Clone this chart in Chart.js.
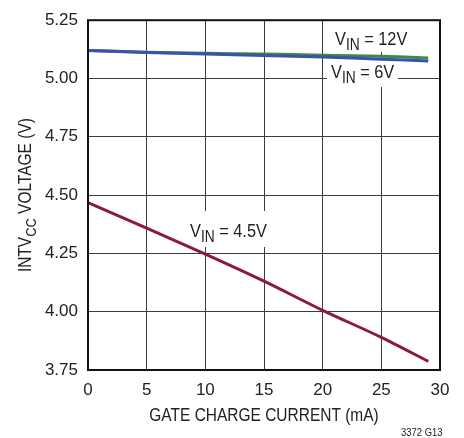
<!DOCTYPE html>
<html>
<head>
<meta charset="UTF-8">
<title>INTVCC Voltage vs Gate Charge Current</title>
<script src="https://cdn.jsdelivr.net/npm/chart.js"></script>
<style>
  html, body { margin: 0; padding: 0; background: #fff; }
  canvas { display: block; }
</style>
</head>
<body>
<canvas id="chart" width="464" height="438"></canvas>
<script>
// gate charge current (mA)
const currents = [0, 5, 10, 15, 20, 25, 29];
// INTVcc voltage (V) per input voltage
const vin12 = [5.120, 5.113, 5.108, 5.105, 5.100, 5.095, 5.088];
const vin6 = [5.120, 5.112, 5.105, 5.099, 5.092, 5.083, 5.075];
const vin45 = [4.468, 4.358, 4.247, 4.131, 4.006, 3.890, 3.787];

const xTicks = [0, 5, 10, 15, 20, 25, 30];
const yTicks = [3.75, 4.00, 4.25, 4.50, 4.75, 5.00, 5.25];

const FONT = "'Liberation Sans', Arial, sans-serif";
const INK = '#222';
const NARROW = 0.86; // the original type is a condensed face

function pts(ys) {
    return currents.map((x, i) => ({ x: x, y: ys[i] }));
}

// text pieces, some of them subscript, squeezed horizontally
function subText(ctx, x, y, parts, size, align) {
    const subSize = Math.round(size * 0.85);
    let w = 0;
    parts.forEach(p => {
        ctx.font = (p.sub ? subSize : size) + 'px ' + FONT;
        p.w = ctx.measureText(p.t).width;
        w += p.w;
    });
    ctx.save();
    ctx.translate(x, y);
    ctx.scale(NARROW, 1);
    let cx = align === 'center' ? -w / 2 : 0;
    ctx.textAlign = 'left';
    ctx.textBaseline = 'alphabetic';
    parts.forEach(p => {
        ctx.font = (p.sub ? subSize : size) + 'px ' + FONT;
        ctx.fillText(p.t, cx, p.sub ? 5 : 0);
        cx += p.w;
    });
    ctx.restore();
}

function vinLabel(val) {
    return [{ t: 'V' }, { t: 'IN', sub: true }, { t: ' = ' + val }];
}

const labelPlugin = {
    id: 'labels',
    beforeDatasetsDraw(chart) {
        const ctx = chart.ctx;
        ctx.save();
        // white boxes behind the curve labels
        ctx.fillStyle = '#fff';
        ctx.fillRect(330, 18, 82, 34);
        ctx.fillRect(327, 58, 71, 29);
        ctx.fillRect(188, 211, 80, 36);
        ctx.fillStyle = INK;
        subText(ctx, 335, 45, vinLabel('12V'), 19);
        subText(ctx, 331, 78, vinLabel('6V'), 19);
        subText(ctx, 190, 237, vinLabel('4.5V'), 19);
        ctx.restore();
    },
    afterDraw(chart) {
        const ctx = chart.ctx;
        const a = chart.chartArea;
        ctx.save();
        // plot frame
        ctx.strokeStyle = '#111';
        ctx.lineWidth = 2;
        ctx.strokeRect(a.left, a.top, a.right - a.left, a.bottom - a.top);

        ctx.fillStyle = INK;
        // x axis title
        subText(ctx, 264, 421, [{ t: 'GATE CHARGE CURRENT (mA)' }], 18, 'center');

        // y axis title
        ctx.save();
        ctx.translate(31, (a.top + a.bottom) / 2);
        ctx.rotate(-Math.PI / 2);
        subText(ctx, 0, 0, [{ t: 'INTV' }, { t: 'CC', sub: true }, { t: ' VOLTAGE (V)' }], 18, 'center');
        ctx.restore();

        // figure id
        subText(ctx, 401, 436, [{ t: '3372 G13' }], 11);
        ctx.restore();
    }
};

new Chart(document.getElementById('chart'), {
    type: 'line',
    data: {
        datasets: [
            { label: 'VIN = 4.5V', data: pts(vin45), borderColor: '#8c1a3c', borderWidth: 3 },
            { label: 'VIN = 6V', data: pts(vin6), borderColor: '#3a52a8', borderWidth: 3 },
            { label: 'VIN = 12V', data: pts(vin12), borderColor: '#3b8a48', borderWidth: 3 }
        ]
    },
    options: {
        responsive: false,
        animation: false,
        events: [],
        layout: { padding: { top: 17, right: 24, left: 0, bottom: 0 } },
        elements: { point: { radius: 0 }, line: { tension: 0.3, borderCapStyle: 'butt' } },
        plugins: { legend: { display: false }, tooltip: { enabled: false } },
        scales: {
            x: {
                type: 'linear',
                min: 0,
                max: 30,
                afterFit: s => { s.height = 68; },
                afterBuildTicks: s => { s.ticks = xTicks.map(v => ({ value: v })); },
                grid: { color: '#3c3c3c', lineWidth: 1, tickLength: 0 },
                border: { display: false },
                ticks: { color: INK, padding: 10, font: { family: FONT, size: 17 }, maxRotation: 0 }
            },
            y: {
                min: 3.75,
                max: 5.25,
                afterFit: s => { s.width = 88; },
                afterBuildTicks: s => { s.ticks = yTicks.map(v => ({ value: v })); },
                grid: { color: '#3c3c3c', lineWidth: 1, tickLength: 0 },
                border: { display: false },
                ticks: { color: INK, padding: 10, font: { family: FONT, size: 17 }, callback: v => v.toFixed(2) }
            }
        }
    },
    plugins: [labelPlugin]
});
</script>
</body>
</html>
